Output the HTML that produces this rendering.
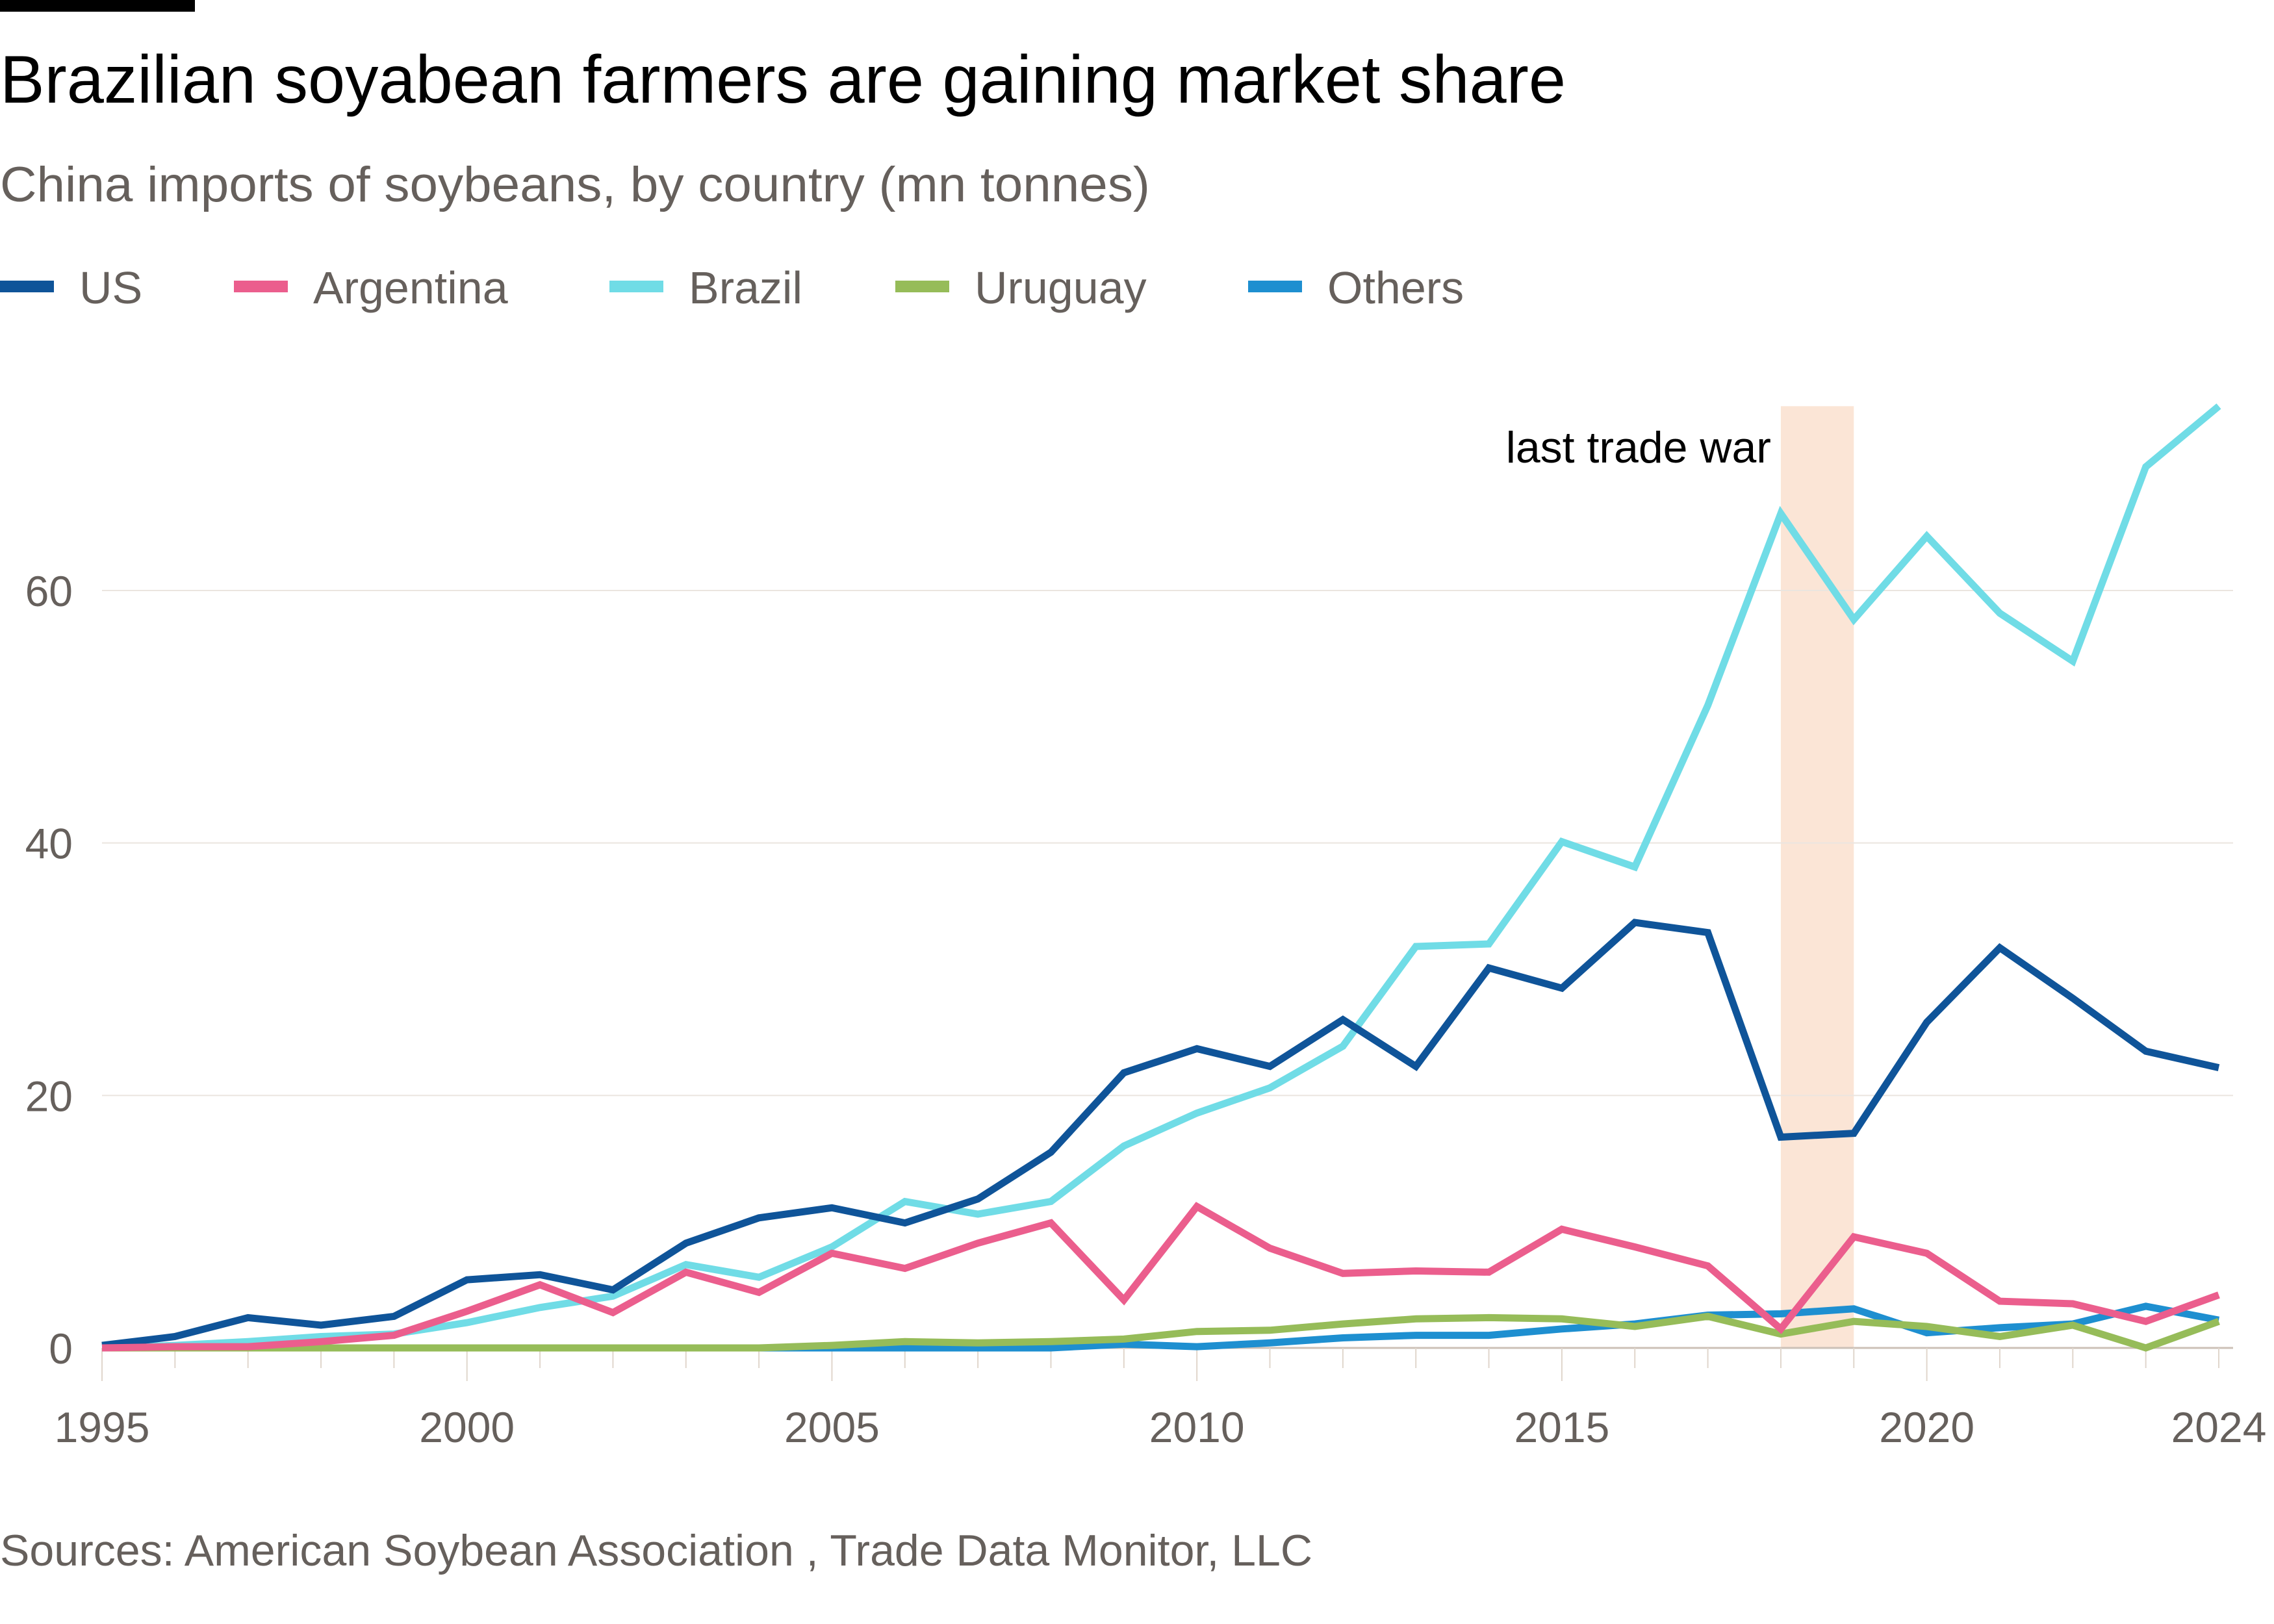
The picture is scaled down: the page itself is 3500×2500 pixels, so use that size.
<!DOCTYPE html>
<html><head><meta charset="utf-8"><style>
html,body{margin:0;padding:0;background:#fff;}
svg{display:block;font-family:"Liberation Sans",sans-serif;}
</style></head><body>
<svg id="chart" width="3500" height="2500" viewBox="0 0 3500 2500" xmlns="http://www.w3.org/2000/svg">
<rect x="0" y="0" width="300" height="18" fill="#000"/>
<text x="0" y="158" font-size="104" fill="#000" textLength="2410" lengthAdjust="spacingAndGlyphs">Brazilian soyabean farmers are gaining market share</text>
<text x="0" y="310" font-size="76" fill="#66605c" textLength="1770" lengthAdjust="spacingAndGlyphs">China imports of soybeans, by country (mn tonnes)</text>
<g id="legend"></g>
<g id="plot"></g>
<text x="0" y="2410" font-size="68" fill="#66605c" textLength="2020" lengthAdjust="spacingAndGlyphs">Sources: American Soybean Association , Trade Data Monitor, LLC</text>
</svg>
<script>
const years = [1995,1996,1997,1998,1999,2000,2001,2002,2003,2004,2005,2006,2007,2008,2009,2010,2011,2012,2013,2014,2015,2016,2017,2018,2019,2020,2021,2022,2023,2024];
const usValues = [0.2,0.9,2.4,1.8,2.5,5.4,5.8,4.6,8.3,10.3,11.1,9.9,11.8,15.5,21.8,23.7,22.3,26,22.3,30.1,28.5,33.7,32.9,16.7,17,25.8,31.7,27.7,23.5,22.2];
const argentinaValues = [0,0.1,0.1,0.5,1,2.9,5,2.8,6,4.4,7.5,6.3,8.3,9.9,3.8,11.2,7.9,5.9,6.1,6,9.4,8,6.5,1.5,8.8,7.5,3.7,3.5,2.1,4.2];
const brazilValues = [0,0.2,0.5,0.9,1.1,2,3.2,4.1,6.6,5.6,8,11.6,10.6,11.6,16,18.6,20.6,23.9,31.8,32,40.1,38.1,50.9,66.1,57.7,64.3,58.2,54.4,69.8,74.6];
const uruguayValues = [0,0,0,0,0,0,0,0,0,0,0.2,0.5,0.4,0.5,0.7,1.3,1.4,1.9,2.3,2.4,2.3,1.7,2.5,1.1,2.1,1.7,0.9,1.8,0,2.1];
const othersValues = [0,0,0,0,0,0,0,0,0,0,0,0,0,0,0.3,0.1,0.4,0.8,1,1,1.5,1.9,2.6,2.7,3.1,1.2,1.6,1.9,3.3,2.2];
const yTicks = [0,20,40,60];
const xTickLabels = [1995,2000,2005,2010,2015,2020,2024];
const tradeWar = [2018,2019];
const tradeWarTop = 74.6;

const NS="http://www.w3.org/2000/svg";
const X0=157,X1=3415,Y0=2075,Y60=909;
const x=v=>X0+(v-1995)*(X1-X0)/29;
const y=v=>Y0-v*(Y0-Y60)/60;
const plot=document.getElementById('plot');
const legend=document.getElementById('legend');
function mk(tag,attrs,parent){const e=document.createElementNS(NS,tag);for(const k in attrs)e.setAttribute(k,attrs[k]);parent.appendChild(e);return e;}

// trade war band
let band=mk('rect',{x:x(tradeWar[0]),y:y(tradeWarTop),width:x(tradeWar[1])-x(tradeWar[0]),height:y(0)-y(tradeWarTop),fill:'#fbe5d6'},plot);


let bl=mk('text',{x:x(tradeWar[0])-15,y:712,'font-size':68,fill:'#000','text-anchor':'end'},plot);
bl.textContent='last trade war';



// gridlines
yTicks.forEach(t=>{
  let g=mk('line',{x1:X0,x2:3437,y1:y(t),y2:y(t),stroke:t===0?'#ccc1b7':'#ebe5df','stroke-width':t===0?3:2},plot);
  
  
  let l=mk('text',{x:112,y:y(t)+24,'font-size':66,fill:'#66605c','text-anchor':'end'},plot);
  l.textContent=t;
  
  
});
// x ticks
years.forEach(yr=>{
  const major=xTickLabels.includes(yr)&&yr%5===0;
  let t=mk('line',{x1:x(yr),x2:x(yr),y1:y(0),y2:major?2126:2106,stroke:'#e0d6cc','stroke-width':2},plot);
  
  
});
xTickLabels.forEach(yr=>{
  let l=mk('text',{x:x(yr),y:2220,'font-size':66,fill:'#66605c','text-anchor':'middle'},plot);
  l.textContent=yr;
  
  
});

const series=[
 ['others',othersValues,'#1e8fd0'],
 ['uruguay',uruguayValues,'#96bc59'],
 ['brazil',brazilValues,'#70dce6'],
 ['us',usValues,'#0f5499'],
 ['argentina',argentinaValues,'#eb5e8d']
];
series.forEach(([n,vals,c])=>{
  const d=vals.map((v,i)=>(i?'L':'M')+x(years[i]).toFixed(1)+','+y(v).toFixed(1)).join(' ');
  let p=mk('path',{d:d,fill:'none',stroke:c,'stroke-width':11,'stroke-linejoin':'miter'},plot);
  
  
});

const legendItems=[['US','#0f5499',0],['Argentina','#eb5e8d',360],['Brazil','#70dce6',938],['Uruguay','#96bc59',1378],['Others','#1e8fd0',1921]];
legendItems.forEach(([n,c,lx])=>{
  let g=mk('g',{},legend);
  
  
  mk('rect',{x:lx,y:432,width:83,height:18,fill:c},g);
  let t=mk('text',{x:lx+122,y:467,'font-size':70,fill:'#66605c'},g);
  t.textContent=n;
});
</script>
</body></html>
